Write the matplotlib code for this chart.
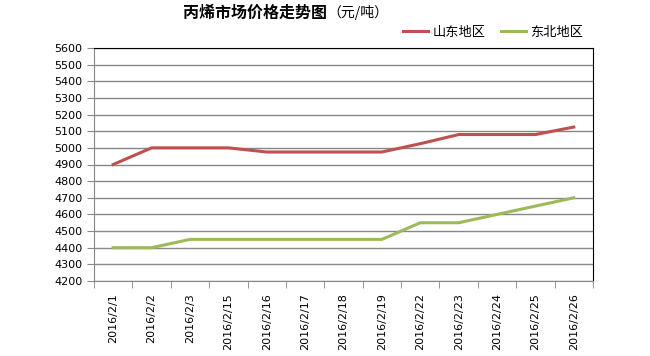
import numpy as np
import matplotlib.pyplot as plt

plt.rcParams['font.family'] = ['Noto Sans CJK SC', 'DejaVu Sans']

# 日期与价格数据
dates = ['2016/2/1', '2016/2/2', '2016/2/3', '2016/2/15', '2016/2/16', '2016/2/17',
         '2016/2/18', '2016/2/19', '2016/2/22', '2016/2/23', '2016/2/24', '2016/2/25',
         '2016/2/26']
shandong = [4900, 5000, 5000, 5000, 4975, 4975, 4975, 4975, 5025, 5080, 5080, 5080, 5125]
dongbei = [4400, 4400, 4450, 4450, 4450, 4450, 4450, 4450, 4550, 4550, 4600, 4650, 4700]

fig = plt.figure(figsize=(6.5, 3.56), dpi=100)
ax = fig.add_axes([94/650, 1 - 281/356, (593 - 94)/650, (281 - 48)/356])

x = np.arange(len(dates))
ax.plot(x, shandong, color='#C0504D', lw=2.2, label='山东地区')
ax.plot(x, dongbei, color='#9BBB59', lw=2.2, label='东北地区')

ax.set_xlim(-0.5, len(dates) - 0.5)
ax.set_ylim(4200, 5600)
ax.set_yticks(np.arange(4200, 5601, 100))
ax.yaxis.grid(True, color='#878787', lw=1)
ax.set_axisbelow(True)

ax.set_xticks(x)
ax.set_xticklabels(dates, rotation=90, fontsize=8, family='DejaVu Sans')
ax.set_xticks(np.arange(-0.5, len(dates)), minor=True)
ax.tick_params(axis='x', which='major', length=0, pad=9)
ax.tick_params(axis='x', which='minor', length=5, color='#878787')
ax.tick_params(axis='y', length=5, color='#878787', labelsize=8)
for lab in ax.get_yticklabels():
    lab.set_family('DejaVu Sans')

ax.spines['left'].set_color('#878787')
ax.spines['bottom'].set_color('#878787')
ax.spines['top'].set_color('black')
ax.spines['right'].set_color('black')

fig.text(327/650, 1 - 13/356, '丙烯市场价格走势图', ha='right', va='center',
         fontsize=11.5, fontweight='bold')
fig.text(327/650, 1 - 13/356, '（元/吨）', ha='left', va='center', fontsize=10)

fig.legend(loc='center left', bbox_to_anchor=(398/650, 1 - 32/356), ncol=2,
           frameon=False, fontsize=9.5, handlelength=1.9, columnspacing=1.2,
           handletextpad=0.3, borderaxespad=0)

fig.savefig('out.png', dpi=100)
